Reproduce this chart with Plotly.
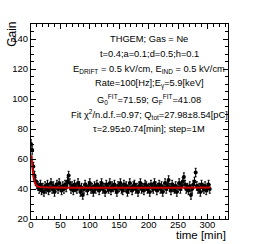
import plotly.graph_objects as go

time_min = list(range(0, 306, 2))
gain = [70, 66, 55, 49, 45, 43, 42, 40, 43, 39, 41, 38, 42, 40, 43, 39, 41, 44, 40, 42,
        38, 41, 43, 40, 44, 41, 39, 42, 40, 43, 41, 45, 49, 44, 40, 42, 39, 43, 41, 40,
        44, 42, 38, 41, 36, 40, 43, 41, 39, 42, 44, 40, 41, 38, 42, 40, 43, 41, 39, 42,
        44, 40, 41, 38, 43, 41, 40, 44, 39, 42, 41, 43, 40, 38, 42, 41, 44, 40, 39, 43,
        41, 42, 38, 40, 44, 41, 39, 42, 43, 40, 41, 38, 42, 44, 40, 41, 39, 43, 42, 40,
        41, 38, 43, 41, 40, 44, 42, 39, 41, 43, 40, 42, 38, 41, 44, 40, 42, 46, 41, 39,
        43, 41, 40, 42, 38, 41, 44, 40, 42, 45, 48, 43, 40, 41, 39, 42, 36, 40, 43, 45,
        51, 42, 40, 41, 38, 43, 41, 40, 42, 39, 41, 43, 40]
gain_err = [2.8] * len(gain)

# fit curve
fit_t = [1, 2, 3, 4, 5, 6, 8, 10, 14, 20, 305]
fit_g = [62.5, 56.5, 52.0, 48.9, 46.3, 44.9, 43.1, 42.1, 41.4, 41.15, 41.08]

info_lines = [
    "THGEM; Gas = Ne",
    "t=0.4;a=0.1;d=0.5;h=0.1",
    "E<sub>DRIFT</sub> = 0.5 kV/cm, E<sub>IND</sub> = 0.5 kV/cm",
    "Rate=100[Hz];E<sub>γ</sub>=5.9[keV]",
    "G<sub>0</sub><sup>FIT</sup>=71.59; G<sub>F</sub><sup>FIT</sup>=41.08",
    "Fit χ<sup>2</sup>/n.d.f.=0.97; Q<sub>tot</sub>=27.98±8.54[pC]",
    "τ=2.95±0.74[min]; step=1M",
]
info_y = [140, 130, 120, 110, 100, 90, 80]

FONT = "Liberation Sans, Arial, sans-serif"

fig = go.Figure()
fig.add_trace(go.Scatter(
    x=time_min, y=gain, mode="markers",
    marker=dict(color="black", size=4),
    error_y=dict(type="data", array=gain_err, color="black", thickness=1, width=1),
    showlegend=False))
fig.add_trace(go.Scatter(
    x=fit_t, y=fit_g, mode="lines", line=dict(color="#cc0000", width=2, shape="spline"),
    showlegend=False))

for line, yv in zip(info_lines, info_y):
    fig.add_annotation(x=0.6, y=yv, xref="paper", yref="y",
                       text=line, showarrow=False, xanchor="center", yanchor="middle",
                       font=dict(family=FONT, size=9.3, color="black"))

axis_common = dict(showline=True, linecolor="black", linewidth=1, mirror="ticks",
                   ticks="inside", ticklen=5, tickcolor="black", showgrid=False,
                   zeroline=False, tickfont=dict(family=FONT, size=9.5, color="black"),
                   minor=dict(ticks="inside", ticklen=3, tickcolor="black"))

fig.update_xaxes(range=[0, 335], dtick=50, ticklabelstandoff=-3, **axis_common)
fig.update_xaxes(minor_dtick=10)
fig.update_yaxes(range=[20, 150], dtick=20, ticklabelstandoff=0, **axis_common)
fig.update_yaxes(minor_dtick=5)

fig.add_annotation(x=1.0, y=-0.08, xref="paper", yref="paper", text="time [min]",
                   showarrow=False, xanchor="right", yanchor="middle",
                   font=dict(family=FONT, size=11.5, color="black"))
fig.add_annotation(x=-0.1, y=143, xref="paper", yref="y", text="Gain",
                   showarrow=False, xanchor="center", yanchor="middle", textangle=-90,
                   font=dict(family=FONT, size=12, color="black"))

fig.update_layout(width=254, height=244, margin=dict(l=25, r=26, t=24, b=25),
                  plot_bgcolor="white", paper_bgcolor="white",
                  font=dict(family=FONT))
fig.write_html("out.html", config={"displayModeBar": False},
               post_script="document.body.style.margin='0';document.body.style.overflow='hidden';")
